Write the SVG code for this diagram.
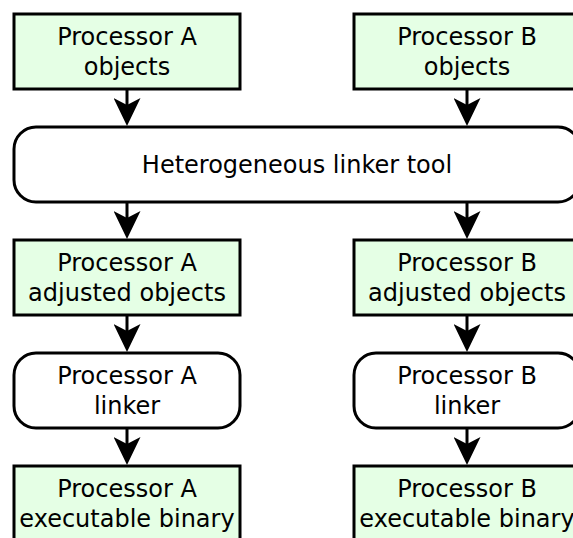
<svg xmlns="http://www.w3.org/2000/svg" width="573" height="538" viewBox="0 0 573 538">
<style>
.box{fill:#e5ffe5;stroke:#000;stroke-width:3}
.proc{fill:#fff;stroke:#000;stroke-width:3}
.lbl{font-family:"DejaVu Sans",sans-serif;font-size:24px;fill:#000;text-anchor:middle}
.edge{stroke:#000;stroke-width:3;fill:none;marker-end:url(#ah)}
</style>
<defs>
<marker id="ah" viewBox="0 0 28 27" refX="7" refY="13.5" markerWidth="28" markerHeight="27" markerUnits="userSpaceOnUse" orient="auto">
<path d="M0,0 L28,13.5 L0,27 L7,13.5 Z" fill="#000"/>
</marker>
</defs>
<rect width="573" height="538" fill="#fff"/>
<g id="connectors">
<line class="edge" x1="127" y1="89" x2="127" y2="105"/>
<line class="edge" x1="467" y1="89" x2="467" y2="105"/>
<line class="edge" x1="127" y1="202" x2="127" y2="218"/>
<line class="edge" x1="467" y1="202" x2="467" y2="218"/>
<line class="edge" x1="127" y1="315" x2="127" y2="331"/>
<line class="edge" x1="467" y1="315" x2="467" y2="331"/>
<line class="edge" x1="127" y1="428" x2="127" y2="444"/>
<line class="edge" x1="467" y1="428" x2="467" y2="444"/>
</g>
<g id="objA">
<rect class="box" x="14" y="14" width="226" height="75"/>
<text class="lbl" x="127" y="45">Processor A</text>
<text class="lbl" x="127" y="75">objects</text>
</g>
<g id="objB">
<rect class="box" x="354" y="14" width="226" height="75"/>
<text class="lbl" x="467" y="45">Processor B</text>
<text class="lbl" x="467" y="75">objects</text>
</g>
<g id="hetlinker">
<rect class="proc" x="14" y="127" width="566" height="75" rx="22" ry="22"/>
<text class="lbl" x="297" y="173">Heterogeneous linker tool</text>
</g>
<g id="adjA">
<rect class="box" x="14" y="240" width="226" height="75"/>
<text class="lbl" x="127" y="271">Processor A</text>
<text class="lbl" x="127" y="301">adjusted objects</text>
</g>
<g id="adjB">
<rect class="box" x="354" y="240" width="226" height="75"/>
<text class="lbl" x="467" y="271">Processor B</text>
<text class="lbl" x="467" y="301">adjusted objects</text>
</g>
<g id="linkA">
<rect class="proc" x="14" y="353" width="226" height="75" rx="22" ry="22"/>
<text class="lbl" x="127" y="384">Processor A</text>
<text class="lbl" x="127" y="414">linker</text>
</g>
<g id="linkB">
<rect class="proc" x="354" y="353" width="226" height="75" rx="22" ry="22"/>
<text class="lbl" x="467" y="384">Processor B</text>
<text class="lbl" x="467" y="414">linker</text>
</g>
<g id="binA">
<rect class="box" x="14" y="466" width="226" height="75"/>
<text class="lbl" x="127" y="497">Processor A</text>
<text class="lbl" x="127" y="527">executable binary</text>
</g>
<g id="binB">
<rect class="box" x="354" y="466" width="226" height="75"/>
<text class="lbl" x="467" y="497">Processor B</text>
<text class="lbl" x="467" y="527">executable binary</text>
</g>
</svg>
